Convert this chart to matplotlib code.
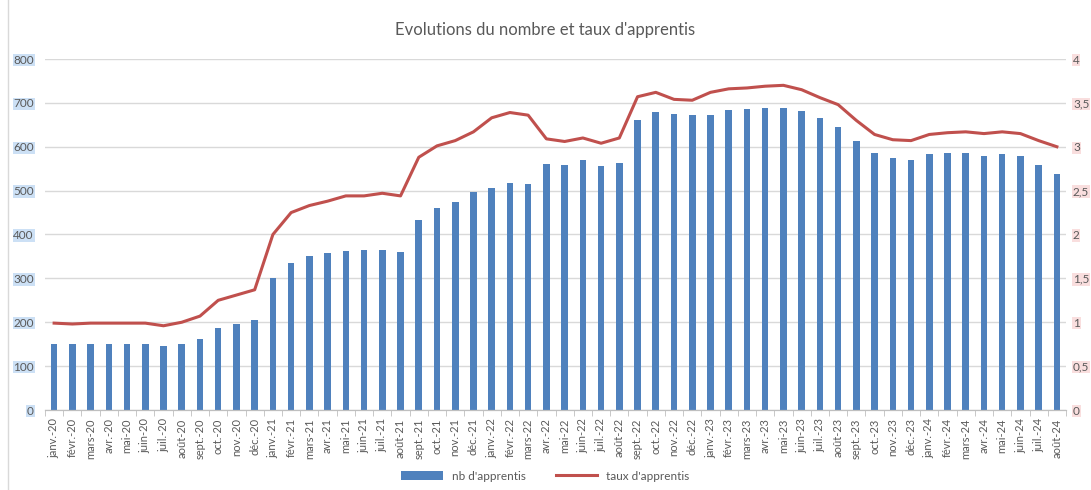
import matplotlib.pyplot as plt
import numpy as np

plt.rcParams["font.family"] = ["Lato", "DejaVu Sans"]

months = ["janv.", "févr.", "mars", "avr.", "mai", "juin", "juil.", "août",
          "sept.", "oct.", "nov.", "déc."]
labels = []
for yy in range(20, 25):
    for m in months:
        labels.append(m + "-" + str(yy))
labels = labels[:56]

nb_apprentis = [150, 150, 151, 150, 150, 150, 146, 150, 161, 188, 195, 204,
                300, 336, 350, 357, 363, 364, 365, 360, 434, 460, 475, 496,
                506, 517, 515, 560, 559, 570, 556, 563, 661, 680, 675, 672,
                673, 684, 687, 689, 688, 682, 665, 644, 613, 585, 574, 569,
                583, 585, 585, 580, 583, 580, 558, 538]
taux_apprentis = [0.99, 0.98, 0.99, 0.99, 0.99, 0.99, 0.96, 1.00, 1.07, 1.25, 1.31, 1.37,
                  2.00, 2.25, 2.33, 2.38, 2.44, 2.44, 2.47, 2.44, 2.88, 3.01, 3.07, 3.17,
                  3.33, 3.39, 3.36, 3.09, 3.06, 3.10, 3.04, 3.10, 3.57, 3.62, 3.54, 3.53,
                  3.62, 3.66, 3.67, 3.69, 3.70, 3.65, 3.56, 3.48, 3.30, 3.14, 3.08, 3.07,
                  3.14, 3.16, 3.17, 3.15, 3.17, 3.15, 3.07, 3.00]

blue = "#4f81bd"
red = "#c0504d"
grey = "#595959"

fig = plt.figure(figsize=(10.91, 4.9), dpi=100)
ax = fig.add_axes([45 / 1091, 1 - 410 / 490, 1021 / 1091, 351 / 490])
ax2 = ax.twinx()

x = np.arange(len(labels))
ax.bar(x, nb_apprentis, width=0.36, color=blue, zorder=2, label="nb d'apprentis")
ax2.plot(x, taux_apprentis, color=red, linewidth=2.2, label="taux d'apprentis")

ax.set_xlim(-0.5, len(labels) - 0.5)
ax.set_ylim(0, 800)
ax2.set_ylim(0, 4)
ax.set_yticks(range(0, 801, 100))
ax2.set_yticks(np.arange(0, 4.01, 0.5))
ax2.set_yticklabels(["0", "0,5", "1", "1,5", "2", "2,5", "3", "3,5", "4"])
ax.grid(axis="y", color="#d9d9d9", linewidth=1, zorder=0)
ax.set_axisbelow(True)

ax.set_xticks(x)
ax.set_xticklabels(labels, rotation=90, fontsize=8, color=grey)
ax.set_xticks(np.arange(-0.5, len(labels), 1), minor=True)
ax.tick_params(axis="x", which="major", length=0, pad=6)
ax.tick_params(axis="x", which="minor", length=4, color="#bfbfbf")
ax.tick_params(axis="y", length=0, labelsize=8.5, colors=grey, pad=8)
ax2.tick_params(axis="y", length=0, labelsize=8.5, colors=grey, pad=5)
for t in ax.get_yticklabels():
    t.set_bbox(dict(facecolor="#cce0f5", edgecolor="none", pad=0.5))
for t in ax2.get_yticklabels():
    t.set_bbox(dict(facecolor="#f9dede", edgecolor="none", pad=0.5))

for a in (ax, ax2):
    for s in ("top", "left", "right"):
        a.spines[s].set_visible(False)
    a.spines["bottom"].set_color("#bfbfbf")

fig.text(0.5, 1 - 30 / 490, "Evolutions du nombre et taux d'apprentis",
         ha="center", va="center", fontsize=12, color=grey)

h1, l1 = ax.get_legend_handles_labels()
h2, l2 = ax2.get_legend_handles_labels()
fig.legend(h1 + h2, l1 + l2, loc="center", bbox_to_anchor=(0.5, 1 - 476 / 490),
           ncol=2, frameon=False, fontsize=8.5, labelcolor=grey,
           handlelength=3.5, columnspacing=2.5)

# left border line of the chart frame
fig.add_artist(plt.Line2D([8 / 1091, 8 / 1091], [0, 1], transform=fig.transFigure,
                          color="#d9d9d9", linewidth=1))

fig.savefig("out.png", dpi=100)
